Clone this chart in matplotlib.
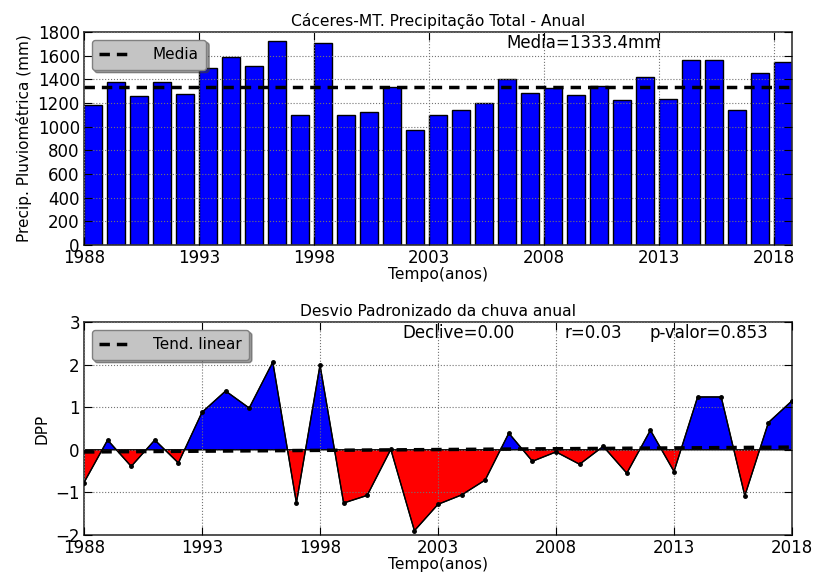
import numpy as np
from matplotlib import pyplot as plt

# annual totals (mm), Caceres-MT
anos = np.arange(1988, 2019)
chuva = [1180, 1374, 1261, 1374, 1275, 1498, 1591, 1515, 1721, 1095,
         1707, 1095, 1126, 1337, 973, 1095, 1137, 1202, 1400, 1284,
         1326, 1270, 1343, 1227, 1416, 1236, 1563, 1563, 1137, 1450,
         1549]
media = 1333.4

# standardized deviation (DPP)
dpp = [-0.77, 0.23, -0.39, 0.23, -0.31, 0.88, 1.38, 0.98, 2.06, -1.25,
       1.99, -1.25, -1.07, 0.01, -1.90, -1.28, -1.06, -0.71, 0.39, -0.27,
       -0.05, -0.34, 0.08, -0.55, 0.46, -0.51, 1.24, 1.24, -1.08, 0.64,
       1.15]
txt_declive = 'Declive=0.00'
txt_r = 'r=0.03'
txt_p = 'p-valor=0.853'


def estilo(ax):
    ax.tick_params(direction='in', top=True, right=True, length=6,
                   labelsize=12, pad=3)
    ax.grid(True, color='0.45', linestyle=':', linewidth=0.8)
    ax.set_axisbelow(False)
    for s in ax.spines.values():
        s.set_linewidth(1.2)
        s.set_color('0.2')


def legenda(ax):
    ax.legend(loc='upper left', fontsize=11, shadow=True, fancybox=True,
              handlelength=2.0, handletextpad=1.5, borderpad=0.5,
              facecolor='#c4c4c4', framealpha=1, edgecolor='0.5')


fig = plt.figure(figsize=(8.14, 5.76), dpi=100)

# upper panel: bars
ax1 = fig.add_axes([0.1032, 0.5747, 0.8698, 0.3698])
ax1.bar(anos, chuva, width=0.8, align='edge', color='#0000ff',
        edgecolor='k', linewidth=1, zorder=1)
ax1.axhline(media, color='k', linestyle='--', linewidth=2.5,
            dashes=(3, 2), label='Media', zorder=3)
ax1.set_xlim(1988, 2018.8)
ax1.set_ylim(0, 1800)
ax1.set_xticks(np.arange(1988, 2019, 5))
ax1.set_yticks(np.arange(0, 1801, 200))
estilo(ax1)
ax1.set_title('Cáceres-MT. Precipitação Total - Anual', fontsize=11.2, pad=4)
ax1.set_ylabel('Precip. Pluviométrica (mm)', fontsize=11)
ax1.set_xlabel('Tempo(anos)', fontsize=11.2, labelpad=0)
ax1.text(0.597, 0.95, 'Media=%.1fmm' % media, transform=ax1.transAxes,
         fontsize=12, ha='left', va='center')
legenda(ax1)

# lower panel: DPP
ax2 = fig.add_axes([0.1032, 0.0712, 0.8698, 0.3698])
d = np.array(dpp)
ax2.fill_between(anos, d, 0, where=d >= 0, interpolate=True,
                 facecolor='#0000ff', edgecolor='k', linewidth=1, zorder=2)
ax2.fill_between(anos, d, 0, where=d <= 0, interpolate=True,
                 facecolor='#ff0000', edgecolor='k', linewidth=1, zorder=2)
ax2.plot(anos, d, 'k-', marker='.', markersize=5, linewidth=0.8, zorder=3)
coef = np.polyfit(anos, d, 1)
ax2.plot(anos, np.polyval(coef, anos), color='k', linestyle='--',
         linewidth=2.5, dashes=(3, 2), label='Tend. linear', zorder=4)
ax2.set_xlim(1988, 2018)
ax2.set_ylim(-2, 3)
ax2.set_xticks(np.arange(1988, 2019, 5))
ax2.set_yticks(np.arange(-2, 4, 1))
estilo(ax2)
ax2.set_title('Desvio Padronizado da chuva anual', fontsize=11.2, pad=4)
ax2.set_ylabel('DPP', fontsize=11)
ax2.set_xlabel('Tempo(anos)', fontsize=11.2, labelpad=0)
ax2.text(0.449, 0.948, txt_declive, transform=ax2.transAxes, fontsize=12,
         ha='left', va='center')
ax2.text(0.678, 0.948, txt_r, transform=ax2.transAxes, fontsize=12,
         ha='left', va='center')
ax2.text(0.798, 0.948, txt_p, transform=ax2.transAxes, fontsize=12,
         ha='left', va='center')
legenda(ax2)

fig.savefig('out.png', dpi=100)
